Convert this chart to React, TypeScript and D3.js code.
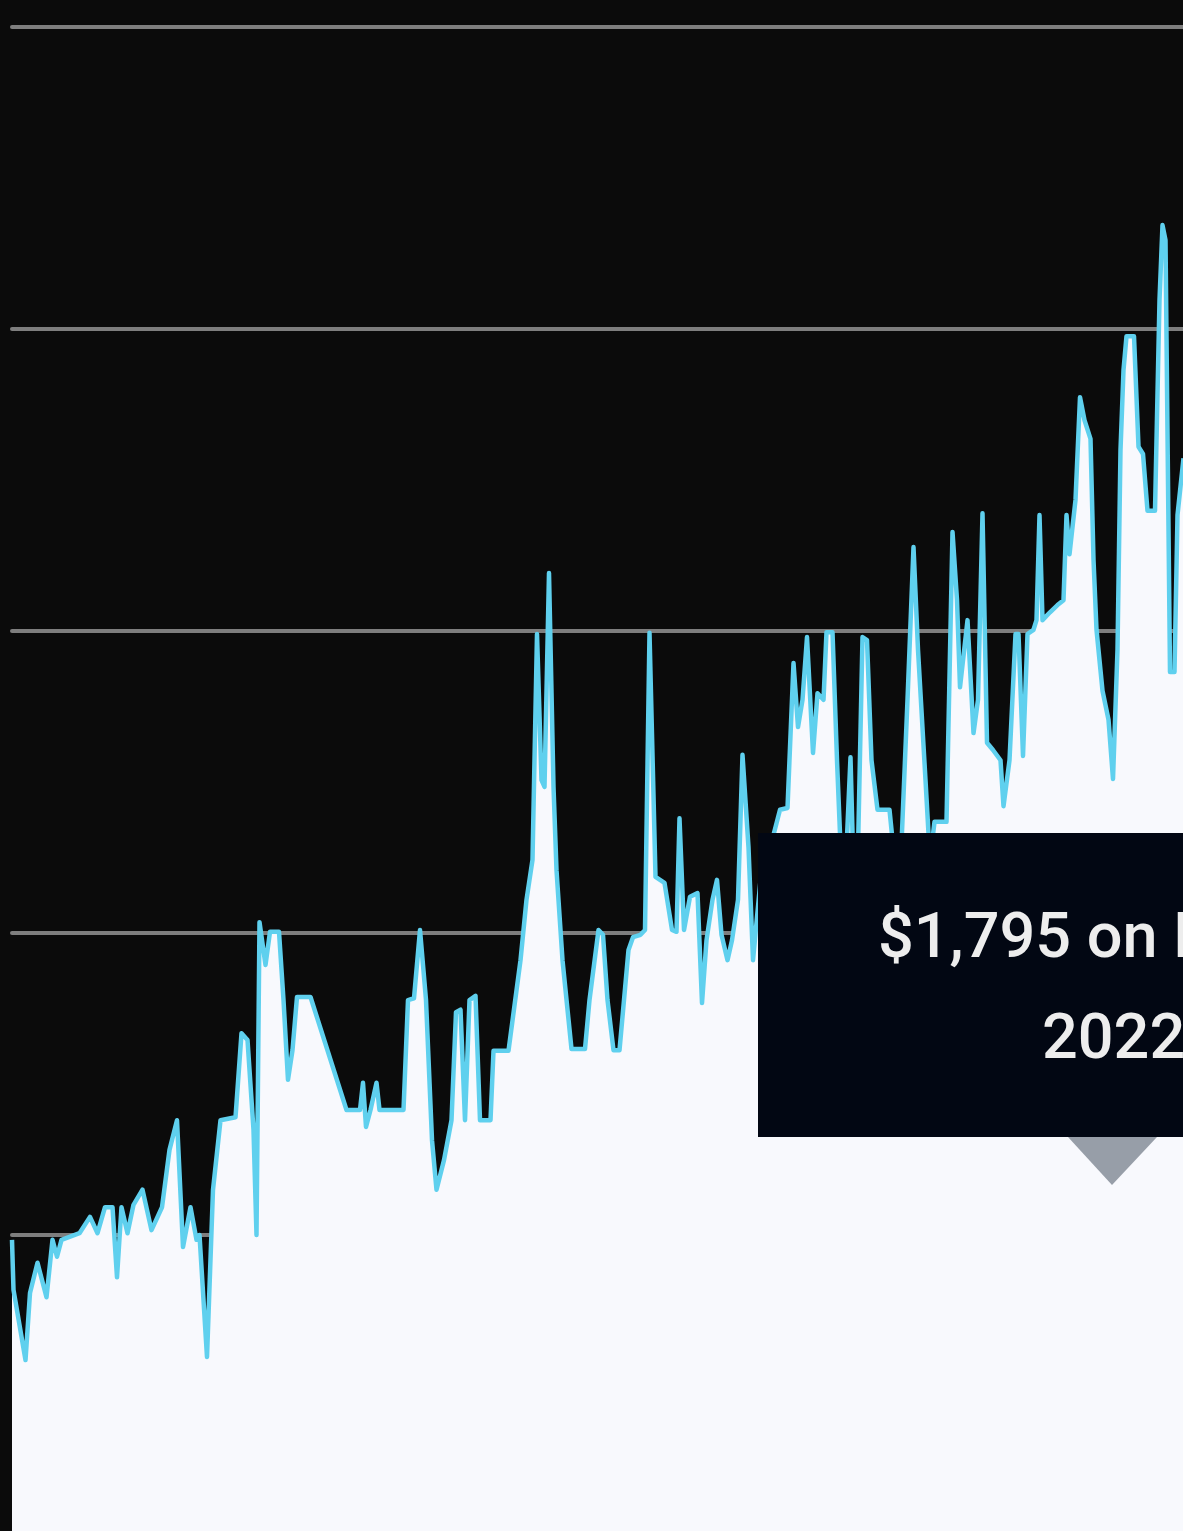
import React from "react";
import * as d3 from "d3";

// Day index (0 = first day shown) and price in USD
const days = [
  0, 1, 9, 12, 17, 23, 27, 30, 33, 45, 52, 57, 62, 67, 70, 73, 77, 81, 87, 93,
  100, 105, 110, 114, 119, 123, 125, 130, 134, 139, 149, 153, 157, 161, 163, 165, 169, 172, 178, 181,
  184, 187, 190, 199, 223, 232, 234, 236, 239, 243, 245, 261, 264, 268, 272, 276, 280, 283, 288, 293,
  296, 299, 302, 305, 309, 312, 319, 321, 331, 339, 343, 347, 350, 353, 355, 358, 361, 363, 367, 373,
  382, 385, 391, 394, 397, 401, 405, 411, 414, 419, 422, 425, 429, 435, 440, 443, 445, 448, 452, 457,
  460, 463, 467, 470, 473, 477, 480, 484, 487, 491, 494, 499, 505, 512, 517, 521, 524, 527, 530, 534,
  537, 541, 543, 547, 550, 553, 556, 559, 561, 564, 567, 570, 573, 577, 585, 589, 592, 597, 601, 604,
  609, 612, 615, 623, 627, 630, 632, 637, 641, 644, 647, 650, 654, 659, 661, 665, 669, 671, 674, 677,
  681, 683, 685, 687, 692, 697, 701, 703, 705, 709, 712, 715, 719, 721, 723, 727, 731, 734, 737, 739,
  741, 743, 748, 751, 754, 757, 762, 765, 767, 769, 772, 775, 777, 781,
];

const prices = [
  992, 909, 793, 904, 954, 897, 992, 964, 992, 1003, 1030, 1003, 1046, 1046, 930, 1046, 1003, 1050, 1075, 1008,
  1046, 1141, 1190, 980, 1046, 992, 1000, 798, 1075, 1190, 1195, 1334, 1323, 1174, 1000, 1518, 1447, 1502, 1502, 1389,
  1257, 1306, 1394, 1394, 1207, 1207, 1252, 1179, 1207, 1252, 1207, 1207, 1389, 1392, 1505, 1389, 1157, 1075, 1124, 1190,
  1369, 1373, 1190, 1389, 1396, 1190, 1190, 1305, 1305, 1455, 1555, 1621, 1995, 1753, 1742, 2096, 1742, 1604, 1455, 1308,
  1308, 1389, 1505, 1497, 1389, 1306, 1306, 1472, 1493, 1497, 1505, 1997, 1593, 1583, 1505, 1502, 1690, 1505, 1560, 1566,
  1384, 1488, 1555, 1588, 1497, 1455, 1488, 1555, 1795, 1642, 1455, 1588, 1637, 1704, 1707, 1947, 1841, 1886, 1990, 1798,
  1897, 1886, 1998, 1998, 1786, 1604, 1621, 1791, 1604, 1637, 1990, 1985, 1786, 1704, 1704, 1604, 1588, 1886, 2139, 1969,
  1753, 1621, 1684, 1684, 2164, 2051, 1907, 2018, 1831, 1886, 2195, 1815, 1803, 1786, 1710, 1786, 1995, 1995, 1793, 1995,
  2002, 2018, 2192, 2018, 2031, 2043, 2051, 2192, 2127, 2217, 2387, 2349, 2318, 2118, 2002, 1901, 1853, 1755, 1969, 2300,
  2432, 2488, 2488, 2305, 2293, 2199, 2199, 2548, 2672, 2647, 1932, 1932, 2192, 2286,
];

const gridTicks = [1000, 1500, 2000, 2500, 3000];

const tooltipValue = "$1,795";
const tooltipDate = "Dec 13,";
const tooltipYear = "2022";

const W = 1183;
const H = 1531;

export default function App() {
  const x = d3.scaleLinear().domain([0, 781]).range([12, 1183.5]);
  const y = d3.scaleLinear().domain([1000, 3000]).range([1235, 27]);

  const data = days.map((d, i) => ({ d, v: prices[i] }));

  const area = d3
    .area<{ d: number; v: number }>()
    .x((p) => x(p.d))
    .y0(y(500))
    .y1((p) => y(p.v));
  const line = d3
    .line<{ d: number; v: number }>()
    .x((p) => x(p.d))
    .y((p) => y(p.v));

  const fmt = d3.format(",");
  void fmt;

  return (
    <svg
      width={W}
      height={H}
      style={{ position: "absolute", left: 0, top: 0, display: "block" }}
    >
      <rect x={0} y={0} width={W} height={H} fill="#0b0b0b" />
      {gridTicks.map((t) => (
        <line
          key={t}
          x1={12}
          x2={W}
          y1={y(t)}
          y2={y(t)}
          stroke="#7e7e7e"
          strokeWidth={4}
          strokeLinecap="round"
        />
      ))}
      <path d={area(data) || ""} fill="#f8f9fd" />
      <path
        d={line(data) || ""}
        fill="none"
        stroke="#5fd0ee"
        strokeWidth={4.5}
        strokeLinejoin="round"
      />
      <g>
        <rect x={758} y={833} width={700} height={304} fill="#020713" />
        <polygon points="1068,1137 1157,1137 1112,1185" fill="#979ea8" />
        <text
          x={878}
          y={957}
          fill="#ededed"
          fontFamily="Roboto, 'Noto Sans', sans-serif"
          fontWeight={500}
          fontSize={63}
        >
          {`${tooltipValue} on ${tooltipDate}`}
        </text>
        <text
          x={1042}
          y={1058}
          fill="#ededed"
          fontFamily="Roboto, 'Noto Sans', sans-serif"
          fontWeight={500}
          fontSize={63}
        >
          {tooltipYear}
        </text>
      </g>
    </svg>
  );
}
